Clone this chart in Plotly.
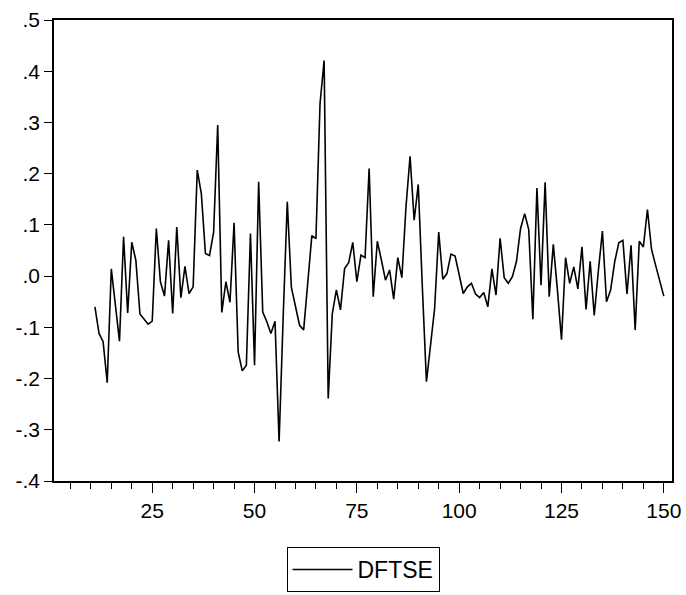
import plotly.graph_objects as go

obs = list(range(11, 151))
dftse = [
    -0.060, -0.112, -0.128, -0.208, 0.014, -0.055, -0.127, 0.077, -0.072, 0.066,
    0.031, -0.074, -0.084, -0.094, -0.088, 0.093, -0.011, -0.039, 0.070, -0.073,
    0.096, -0.042, 0.019, -0.034, -0.021, 0.207, 0.161, 0.044, 0.040, 0.086,
    0.295, -0.071, -0.011, -0.051, 0.104, -0.148, -0.185, -0.174, 0.083, -0.174,
    0.184, -0.070, -0.089, -0.112, -0.088, -0.323, -0.080, 0.145, -0.022, -0.057,
    -0.096, -0.105, -0.014, 0.079, 0.073, 0.337, 0.421, -0.239, -0.073, -0.027,
    -0.066, 0.015, 0.026, 0.066, -0.011, 0.041, 0.036, 0.210, -0.040, 0.068,
    0.031, -0.008, 0.012, -0.045, 0.036, -0.003, 0.135, 0.234, 0.109, 0.179,
    -0.021, -0.206, -0.135, -0.063, 0.086, -0.006, 0.005, 0.043, 0.039, 0.004,
    -0.034, -0.021, -0.014, -0.035, -0.042, -0.032, -0.060, 0.014, -0.037, 0.074,
    -0.003, -0.014, -0.001, 0.029, 0.093, 0.122, 0.091, -0.084, 0.172, -0.018,
    0.183, -0.040, 0.062, -0.027, -0.124, 0.036, -0.014, 0.018, -0.025, 0.057,
    -0.065, 0.029, -0.077, 0.010, 0.088, -0.050, -0.027, 0.028, 0.065, 0.070,
    -0.035, 0.060, -0.105, 0.068, 0.057, 0.130, 0.052, 0.021, -0.008, -0.039,
]
y_ticks = [-0.4, -0.3, -0.2, -0.1, 0.0, 0.1, 0.2, 0.3, 0.4, 0.5]
y_labels = ["-.4", "-.3", "-.2", "-.1", ".0", ".1", ".2", ".3", ".4", ".5"]
x_ticks = [25, 50, 75, 100, 125, 150]

fig = go.Figure()
fig.add_trace(go.Scatter(x=obs, y=dftse, mode="lines", name="DFTSE",
                         line=dict(color="black", width=1.6)))

font = dict(family="Liberation Sans, Arial, sans-serif", size=21, color="black")
legend_font = dict(family="Liberation Sans, Arial, sans-serif", size=23, color="black")
fig.update_layout(
    width=686, height=595,
    margin=dict(l=54, r=14, t=20, b=114, autoexpand=False),
    paper_bgcolor="white", plot_bgcolor="white",
    font=font,
    showlegend=True,
    legend=dict(x=0.5, xanchor="center", xref="paper",
                y=1 - 547 / 595, yanchor="top", yref="container",
                bordercolor="black", borderwidth=1, bgcolor="white",
                font=legend_font, itemwidth=60),
    xaxis=dict(range=[1, 152], tickvals=x_ticks, ticks="outside", ticklen=10,
               tickwidth=1.2, tickcolor="black", automargin=False,
               minor=dict(dtick=5, tick0=0, ticks="outside", ticklen=6,
                          tickwidth=1.2, tickcolor="black"),
               showline=True, linecolor="black", linewidth=1.5, mirror=True,
               showgrid=False, zeroline=False, tickfont=font),
    yaxis=dict(range=[-0.4, 0.5], tickvals=y_ticks, ticktext=y_labels,
               ticks="outside", ticklen=8, tickwidth=1.2, tickcolor="black",
               automargin=False,
               showline=True, linecolor="black", linewidth=1.5, mirror=True,
               showgrid=False, zeroline=False, tickfont=font),
)

fig.write_html("out.html", config={"displayModeBar": False},
               post_script="document.body.style.margin='0px';"
                           "document.body.style.overflow='hidden';")
